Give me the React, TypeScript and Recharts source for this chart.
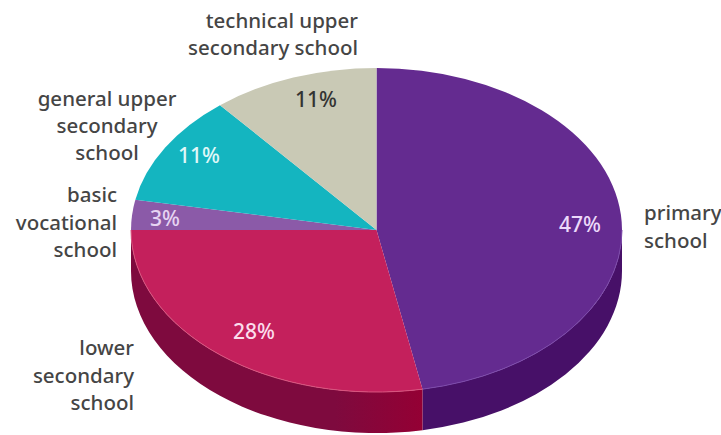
import React from "react";
import { PieChart, Pie } from "recharts";

const categories = [
  "primary school",
  "lower secondary school",
  "basic vocational school",
  "general upper secondary school",
  "technical upper secondary school",
];
const shares = [47, 28, 3, 11, 11];
const topColors = ["#642b90", "#c4205c", "#8b5aa8", "#14b5c0", "#c9c9b5"];
const wallColors = ["#471068", "#7e0a3e", "#5f3a78", "#0d7f87", "#8f8f7e"];
const wallSeamColors = ["#471068", "#940034", "#5f3a78", "#0d7f87", "#8f8f7e"];
const edgeColors = ["#7d4bab", "#d9557f", "#a57cc0", "#4cc9d2", "#dcdccb"];
const shareColors = ["#ecd9fa", "#fbdcec", "#e6d4f2", "#e0f8f8", "#333333"];
const nameLines = [
  ["primary", "school"],
  ["lower", "secondary", "school"],
  ["basic", "vocational", "school"],
  ["general upper", "secondary", "school"],
  ["technical upper", "secondary school"],
];

const rows = categories.map((name, i) => ({ name, value: shares[i] }));

// Flattening of the disc and thickness of its rim
const SQUASH = 0.66;
const DEPTH = 41;
const FONT = "'Noto Sans', sans-serif";

// Placement of the slice captions: share text centre, then name block
const shareSpots = [
  { x: 580, y: 224 },
  { x: 254, y: 331 },
  { x: 165, y: 218 },
  { x: 199, y: 155 },
  { x: 316, y: 99 },
];
const nameSpots: { x: number; y: number; anchor: "start" | "middle" | "end"; step: number }[] = [
  { x: 644, y: 212, anchor: "start", step: 28 },
  { x: 134, y: 347, anchor: "end", step: 27.5 },
  { x: 117, y: 194, anchor: "end", step: 27.5 },
  { x: 107, y: 98, anchor: "middle", step: 27 },
  { x: 358, y: 20, anchor: "end", step: 27 },
];

const onRim = (cx: number, cy: number, r: number, deg: number) => {
  const a = (deg * Math.PI) / 180;
  return { x: cx + r * Math.cos(a), y: cy - r * SQUASH * Math.sin(a) };
};

const TopFace = (p: any) => {
  const { cx, cy, outerRadius: r, startAngle, endAngle, index } = p;
  const a = onRim(cx, cy, r, startAngle);
  const b = onRim(cx, cy, r, endAngle);
  const ry = r * SQUASH;
  const large = Math.abs(startAngle - endAngle) > 180 ? 1 : 0;
  const d = `M${cx},${cy} L${a.x},${a.y} A${r},${ry} 0 ${large} 1 ${b.x},${b.y} Z`;
  // Thin highlight where the face meets the rim
  const from = Math.min(startAngle, 0);
  const to = Math.max(endAngle, -180);
  const e0 = onRim(cx, cy, r, from);
  const e1 = onRim(cx, cy, r, to);
  return (
    <g>
      <path d={d} fill={topColors[index]} />
      {from > to && (
        <path
          d={`M${e0.x},${e0.y} A${r},${ry} 0 0 1 ${e1.x},${e1.y}`}
          fill="none"
          stroke={edgeColors[index]}
          strokeWidth={1}
        />
      )}
    </g>
  );
};

// Only the part of a slice lying on the front half of the disc shows a rim
const RimWall = (p: any) => {
  const { cx, cy, outerRadius: r, startAngle, endAngle, index } = p;
  const from = Math.min(startAngle, 0);
  const to = Math.max(endAngle, -180);
  if (from <= to) return <g />;
  const a = onRim(cx, cy, r, from);
  const b = onRim(cx, cy, r, to);
  const ry = r * SQUASH;
  const d =
    `M${a.x},${a.y} A${r},${ry} 0 0 1 ${b.x},${b.y} ` +
    `L${b.x},${b.y + DEPTH} A${r},${ry} 0 0 0 ${a.x},${a.y + DEPTH} Z`;
  const id = `rim-shade-${index}`;
  return (
    <g>
      <defs>
        <linearGradient id={id} gradientUnits="userSpaceOnUse" x1={a.x} y1={0} x2={b.x} y2={0}>
          <stop offset="0" stopColor={wallSeamColors[index]} />
          <stop offset="0.3" stopColor={wallColors[index]} />
          <stop offset="1" stopColor={wallColors[index]} />
        </linearGradient>
      </defs>
      <path d={d} fill={`url(#${id})`} />
    </g>
  );
};

const Caption = (p: any) => {
  const i = p.index as number;
  const share = shareSpots[i];
  const spot = nameSpots[i];
  return (
    <g fontFamily={FONT}>
      <text
        x={share.x}
        y={share.y}
        textAnchor="middle"
        dominantBaseline="central"
        fontSize={21}
        fontWeight={500}
        fill={shareColors[i]}
      >
        {`${shares[i]}%`}
      </text>
      {nameLines[i].map((line, k) => (
        <text
          key={line}
          x={spot.x}
          y={spot.y + k * spot.step}
          textAnchor={spot.anchor}
          dominantBaseline="central"
          fontSize={20.5}
          fontWeight={500}
          fill="#454545"
        >
          {line}
        </text>
      ))}
    </g>
  );
};

export default function App() {
  return (
    <div style={{ position: "absolute", left: 0, top: 0, width: 721, height: 435, background: "#fff" }}>
      <PieChart width={721} height={435} margin={{ top: 0, right: 0, bottom: 0, left: 0 }}>
        <Pie
          data={rows}
          dataKey="value"
          nameKey="name"
          cx={376.5}
          cy={230}
          outerRadius={245.5}
          startAngle={90}
          endAngle={-270}
          stroke="none"
          shape={RimWall}
          isAnimationActive={false}
          legendType="none"
        />
        <Pie
          data={rows}
          dataKey="value"
          nameKey="name"
          cx={376.5}
          cy={230}
          outerRadius={245.5}
          startAngle={90}
          endAngle={-270}
          stroke="none"
          shape={TopFace}
          label={Caption}
          labelLine={false}
          isAnimationActive={false}
          legendType="none"
        />
      </PieChart>
    </div>
  );
}
